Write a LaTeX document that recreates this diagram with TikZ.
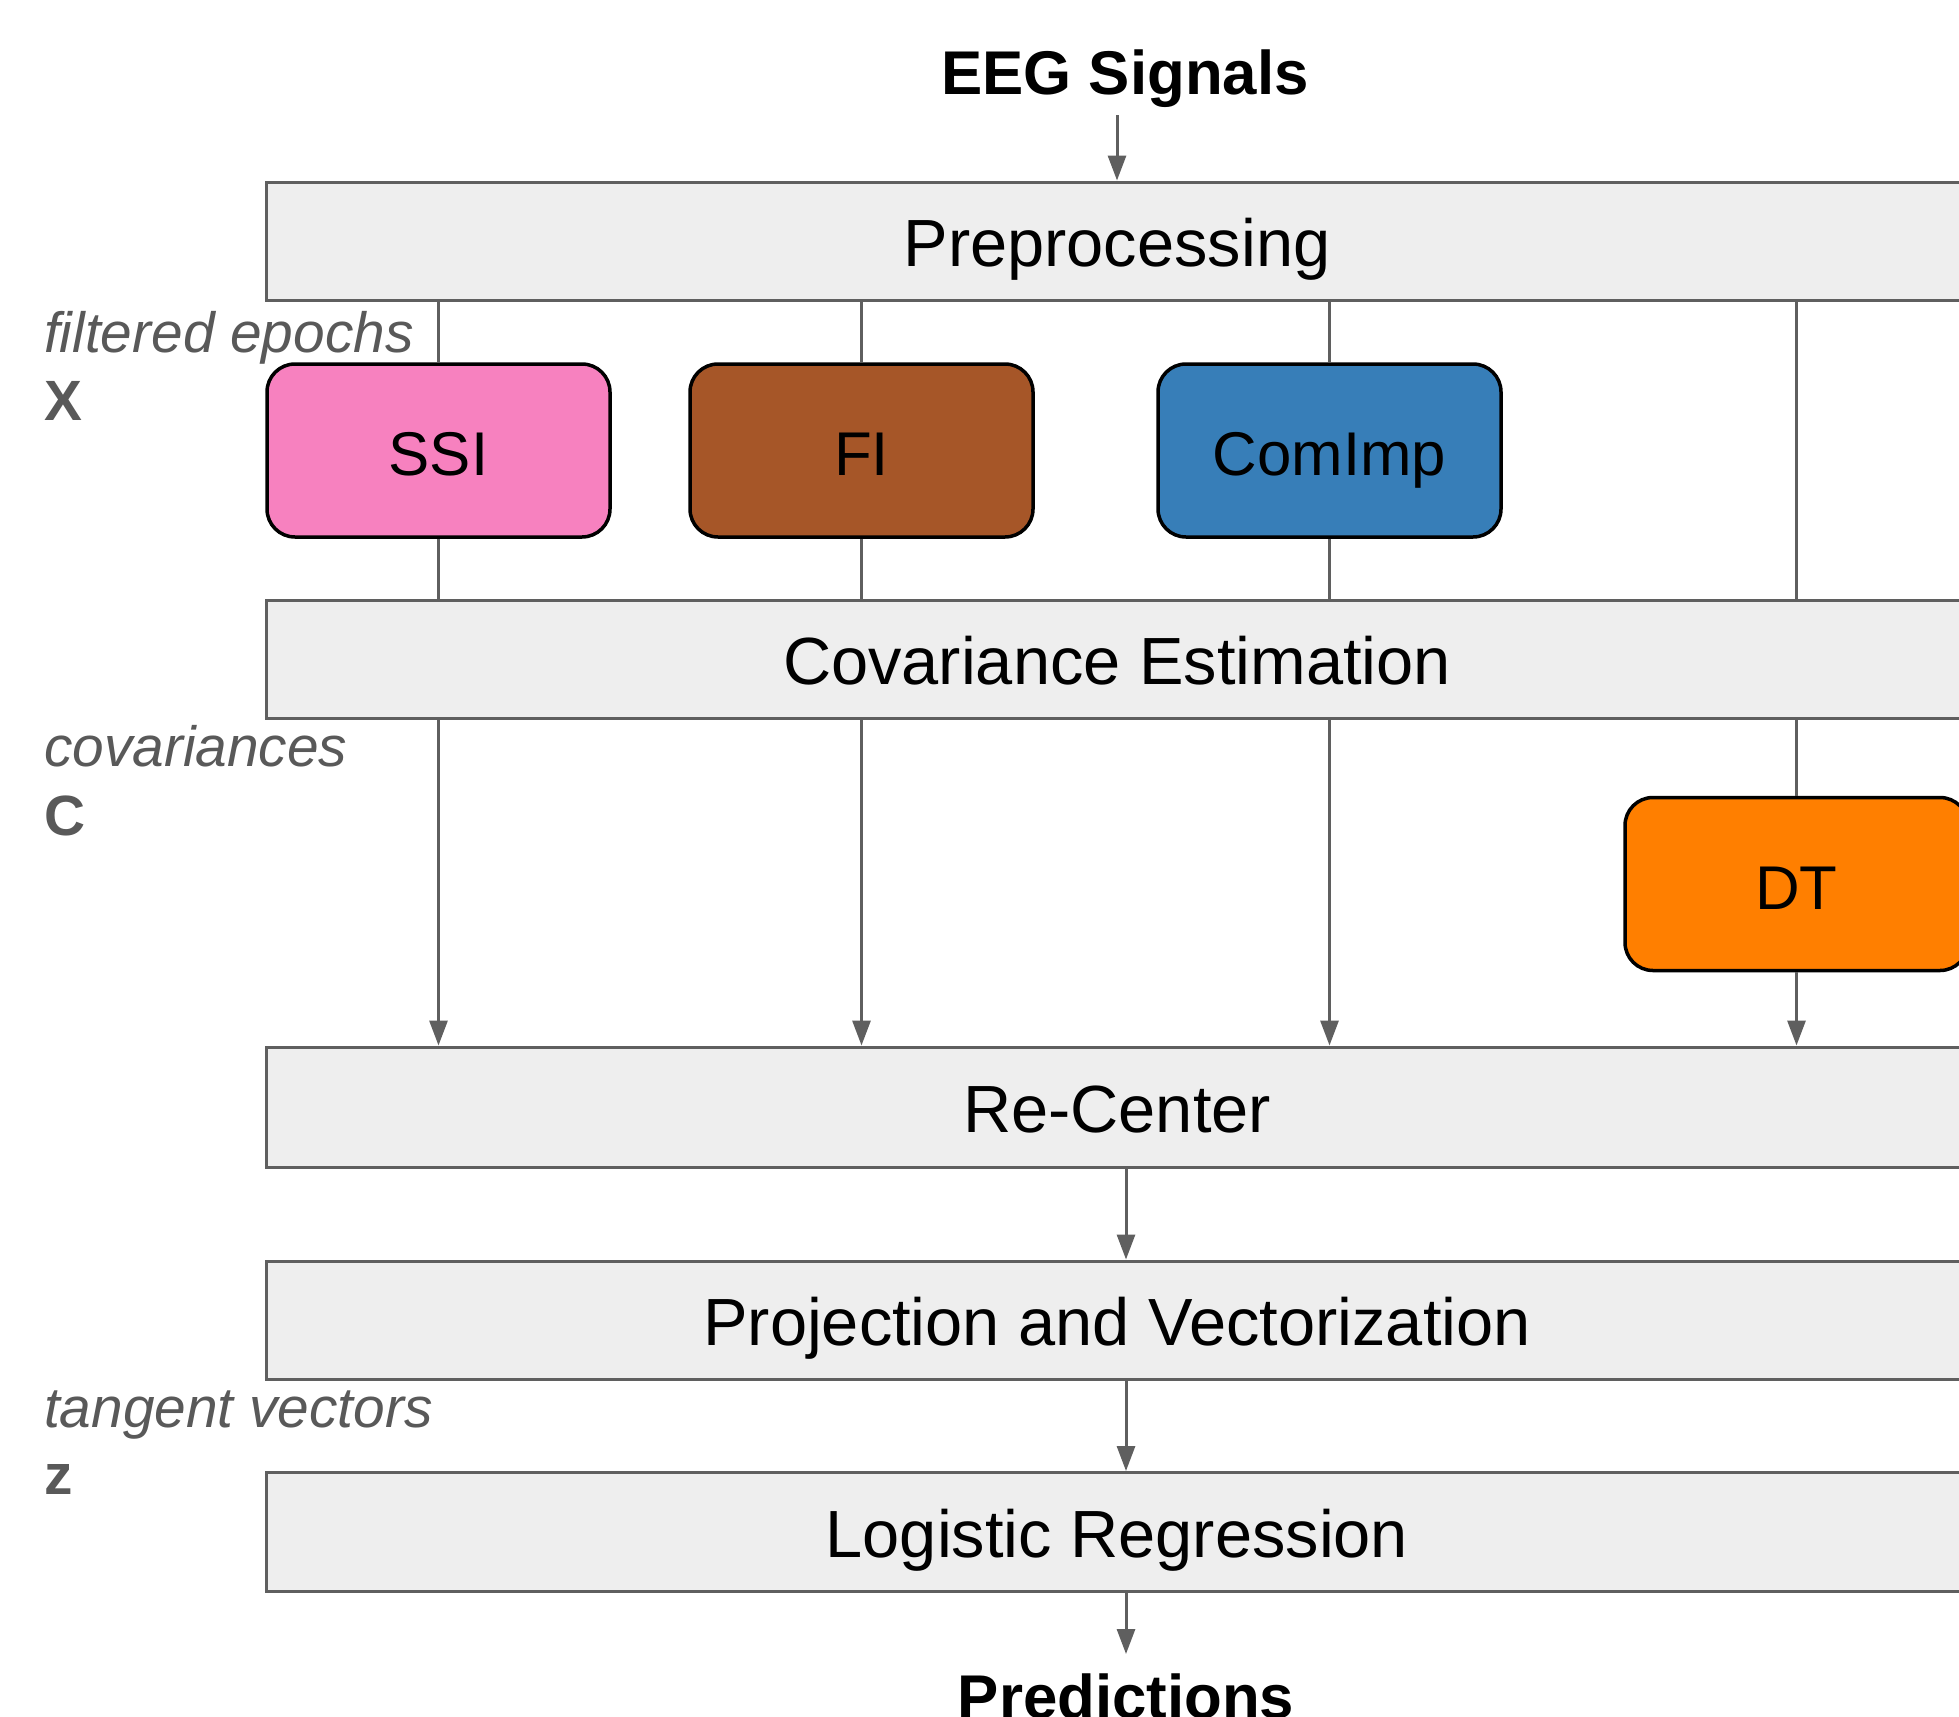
\documentclass[tikz,border=0pt]{standalone}
\usepackage{fontspec}
\setmainfont{Liberation Sans}
\usetikzlibrary{arrows.meta,calc}
\definecolor{linegray}{HTML}{5F5F5F}
\definecolor{labelgray}{HTML}{595959}
\definecolor{boxfill}{HTML}{EEEEEE}
\definecolor{cssi}{HTML}{F781BF}
\definecolor{cfi}{HTML}{A65628}
\definecolor{ccom}{HTML}{377EB8}
\definecolor{cdt}{HTML}{FF7F00}
\tikzset{
  stagebox/.style={draw=linegray, line width=3bp, fill=boxfill, rectangle,
    minimum width=1700bp, inner sep=0pt, text height=50bp, text depth=0bp,
    font=\fontsize{67}{76}\selectfont},
  methodbox/.style={draw=black, line width=3.5bp, rectangle, rounded corners=28bp,
    minimum width=343bp, minimum height=173bp, inner sep=0pt,
    text height=50bp, text depth=0bp,
    font=\fontsize{62}{70}\selectfont},
  conn/.style={draw=linegray, line width=3bp},
  arr/.style={conn, -{Triangle[length=25bp,width=18bp]}},
  sidelabel/.style={anchor=base west, text=labelgray, inner sep=0pt,
    font=\fontsize{57}{66}\selectfont\itshape},
  sidevar/.style={anchor=base west, text=labelgray, inner sep=0pt,
    font=\fontsize{57}{66}\selectfont\bfseries},
  endlabel/.style={inner sep=0pt, font=\fontsize{62}{72}\selectfont\bfseries}
}
\begin{document}
\begin{tikzpicture}[x=1bp,y=-1bp]
\clip (0,0) rectangle (1959,1717);
\fill[white] (0,0) rectangle (1959,1717);

% input / output labels
\node[endlabel, anchor=base] (eeg) at (1125,94) {EEG Signals};
\coordinate (eegout) at (1117,115);
\node[endlabel, anchor=base] (pred) at (1126,1718) {Predictions};
\coordinate (predin) at (1126,1654);

% stage boxes
\node[stagebox, minimum height=118bp] (pre) at (1117,241) {Preprocessing};
\node[stagebox, minimum height=118bp] (cov) at (1117,659) {Covariance Estimation};
\node[stagebox, minimum height=120bp] (rec) at (1117,1107) {Re-Center};
\node[stagebox, minimum height=118bp] (proj) at (1117,1320) {Projection and Vectorization};
\node[stagebox, minimum height=119bp] (logr) at (1117,1532) {Logistic Regression};

% method boxes
\node[methodbox, fill=cssi] (ssi) at (438.5,450.5) {SSI};
\node[methodbox, fill=cfi] (fi) at (861.5,450.5) {FI};
\node[methodbox, fill=ccom] (com) at (1329.5,450.5) {ComImp};
\node[methodbox, fill=cdt] (dt) at (1796.5,884) {DT};

% side labels
\node[sidelabel] (lx) at (44,352) {filtered epochs};
\node[sidevar] (vx) at (44,420) {X};
\node[sidelabel] (lc) at (44,766) {covariances};
\node[sidevar] (vc) at (44,835) {C};
\node[sidelabel] (lz) at (44,1427) {tangent vectors};
\node[sidevar] (vz) at (44,1494) {z};

% connectors
\draw[arr] (eegout) -- (eegout |- pre.north);
\foreach \m in {ssi,fi,com}{
  \draw[conn] (pre.south -| \m.north) -- (\m.north);
  \draw[conn] (\m.south) -- (cov.north -| \m.south);
  \draw[arr] (cov.south -| \m.south) -- (rec.north -| \m.south);
}
\draw[conn] (pre.south -| dt.north) -- (cov.north -| dt.north);
\draw[conn] (cov.south -| dt.north) -- (dt.north);
\draw[arr] (dt.south) -- (rec.north -| dt.south);
\coordinate (mid) at (1126,0);
\draw[arr] (rec.south -| mid) -- (proj.north -| mid);
\draw[arr] (proj.south -| mid) -- (logr.north -| mid);
\draw[arr] (logr.south -| mid) -- (predin);
\end{tikzpicture}
\end{document}
